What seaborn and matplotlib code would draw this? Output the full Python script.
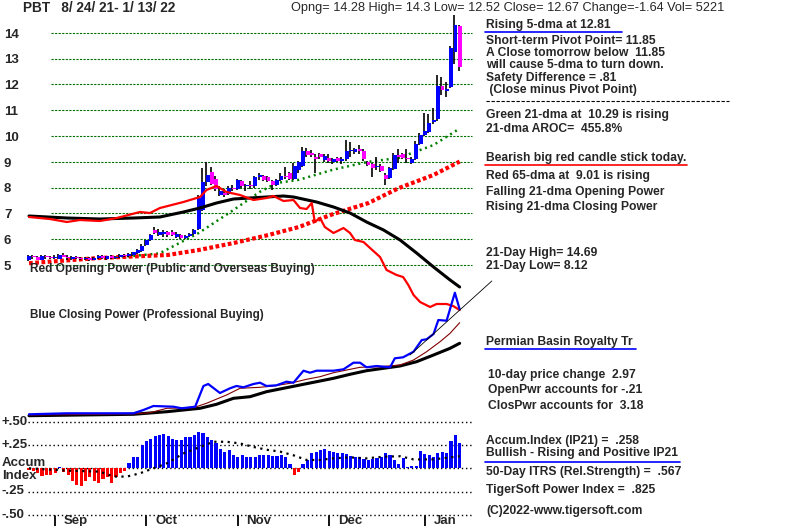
import numpy as np
import matplotlib
matplotlib.use("Agg")
import matplotlib.pyplot as plt
import matplotlib.transforms as mtransforms
import seaborn as sns

####################### data ###################################################

# daily OHLC, 8/24/21 .. 1/13/22 (100 trading days)
opens = [5.18, 5.33, 5.30, 5.20, 5.36, 5.30, 5.28, 5.24, 5.40, 5.32,
         5.22, 5.32, 5.27, 5.22, 5.26, 5.20, 5.28, 5.34, 5.24, 5.33,
         5.27, 5.30, 5.38, 5.34, 5.40, 5.48, 5.55, 5.78, 5.97, 6.36,
         6.18, 6.20, 6.28, 6.28, 6.10, 6.16, 6.06, 6.14, 6.22, 6.38,
         7.15, 8.20, 8.60, 8.35, 7.72, 7.80, 7.75, 8.00, 7.95, 8.25,
         8.05, 8.10, 8.05, 8.40, 8.45, 8.42, 8.25, 8.10, 8.30, 8.45,
         8.55, 8.35, 8.70, 8.85, 9.40, 9.35, 9.20, 9.30, 9.08, 9.15,
         9.00, 9.15, 9.05, 9.10, 9.40, 9.38, 9.48, 9.42, 9.00, 8.90,
         8.80, 8.85, 8.50, 8.38, 8.72, 9.28, 9.30, 9.15, 8.95, 9.10,
         9.70, 10.02, 10.15, 10.54, 10.66, 11.94, 11.75, 11.90, 13.25, 14.28]
highs = [5.40, 5.38, 5.34, 5.40, 5.40, 5.35, 5.38, 5.42, 5.45, 5.38,
         5.36, 5.36, 5.32, 5.30, 5.30, 5.32, 5.38, 5.38, 5.36, 5.37,
         5.36, 5.42, 5.42, 5.46, 5.52, 5.62, 5.80, 5.98, 6.22, 6.48,
         6.40, 6.35, 6.32, 6.34, 6.26, 6.22, 6.18, 6.24, 6.40, 7.70,
         8.75, 9.00, 8.80, 8.45, 8.05, 7.95, 8.05, 8.10, 8.35, 8.30,
         8.15, 8.25, 8.45, 8.55, 8.50, 8.45, 8.30, 8.35, 8.55, 8.80,
         8.60, 8.95, 9.05, 9.57, 9.55, 9.45, 9.30, 9.35, 9.30, 9.30,
         9.15, 9.20, 9.20, 9.84, 9.75, 9.55, 9.65, 9.48, 9.05, 8.95,
         9.20, 8.90, 8.55, 8.80, 9.35, 9.50, 9.35, 9.50, 9.20, 9.80,
         10.10, 10.90, 10.85, 11.10, 12.36, 12.30, 12.10, 13.50, 14.69, 14.30]
lows = [5.14, 5.22, 5.18, 5.18, 5.25, 5.22, 5.22, 5.22, 5.30, 5.20,
        5.18, 5.24, 5.20, 5.18, 5.16, 5.18, 5.24, 5.22, 5.20, 5.24,
        5.24, 5.28, 5.32, 5.30, 5.36, 5.44, 5.52, 5.74, 5.94, 6.20,
        6.12, 6.10, 6.10, 6.12, 6.04, 6.02, 6.00, 6.08, 6.18, 6.36,
        7.10, 8.05, 8.10, 7.85, 7.68, 7.62, 7.70, 7.85, 7.90, 8.00,
        7.85, 7.95, 8.00, 8.30, 8.25, 8.20, 7.90, 8.05, 8.25, 8.35,
        8.30, 8.30, 8.55, 8.80, 9.20, 9.20, 8.58, 9.10, 9.00, 8.95,
        8.90, 9.00, 8.90, 9.05, 9.20, 9.30, 9.30, 9.05, 8.85, 8.40,
        8.70, 8.60, 8.12, 8.35, 8.70, 8.95, 9.12, 8.95, 8.90, 9.08,
        9.65, 10.00, 10.10, 10.45, 10.60, 11.60, 11.50, 11.85, 12.80, 12.52]
closes = [5.35, 5.30, 5.20, 5.36, 5.30, 5.28, 5.32, 5.38, 5.32, 5.26,
          5.32, 5.27, 5.22, 5.26, 5.20, 5.28, 5.34, 5.26, 5.33, 5.27,
          5.32, 5.38, 5.34, 5.44, 5.50, 5.58, 5.74, 5.95, 6.18, 6.25,
          6.26, 6.28, 6.16, 6.16, 6.20, 6.06, 6.12, 6.20, 6.36, 7.60,
          8.20, 8.50, 8.15, 7.95, 7.85, 7.72, 8.00, 7.95, 8.30, 8.05,
          8.10, 8.05, 8.40, 8.50, 8.30, 8.25, 8.10, 8.30, 8.45, 8.40,
          8.35, 8.85, 9.00, 9.40, 9.28, 9.25, 9.10, 9.18, 9.22, 9.05,
          9.10, 9.05, 9.12, 9.40, 9.45, 9.48, 9.42, 9.10, 8.88, 8.75,
          8.85, 8.65, 8.35, 8.75, 9.28, 9.20, 9.15, 9.10, 9.12, 9.70,
          10.05, 10.20, 10.50, 10.62, 11.94, 11.80, 11.82, 13.40, 14.30, 12.67]

# price moving averages, read at (day, value)
ma21_days = [20, 22, 30, 39, 47, 53, 57, 62, 70, 78, 85, 93, 99]
ma21_vals = [5.30, 5.32, 5.45, 6.24, 7.13, 7.83, 8.18, 8.30, 8.70, 9.00, 9.15, 9.65, 10.29]
ma65_days = [0, 16, 32, 39, 47, 55, 62, 70, 78, 85, 93, 99]
ma65_vals = [5.07, 5.27, 5.39, 5.58, 5.85, 6.16, 6.47, 6.98, 7.40, 7.98, 8.49, 9.01]

# opening power (red) and its 21-dma (black), arbitrary units
op_days = [0, 4.8, 8.7, 11.7, 16.3, 20.2, 25.5, 27.8, 30.1, 35.5, 39.3, 40.8, 43.1,
           45.4, 48.5, 51.6, 54.6, 56.2, 58.5, 60.8, 62.3, 63.8, 65, 65.7, 66.9, 68,
           70, 72.3, 73.8, 74.9, 76.9, 78.4, 80.7, 82.2, 84.5, 86, 87.2, 88.4, 89.9,
           92.2, 93.7, 96, 97.5, 99]
op_vals = [283, 281, 278, 280, 279, 282, 288, 287, 292, 298, 303, 310, 314,
           308, 305, 300, 302, 304, 299, 300, 292, 291, 297, 278, 282, 273,
           267, 272, 267, 260, 258, 252, 243, 230, 225, 223, 215, 205, 198,
           193, 196, 196, 194, 190]
op_ma_days = [0, 8.7, 16.3, 24, 30.1, 35.5, 39.3, 43.1, 47, 50.8, 54.6, 58.5, 60.8,
              66.1, 70, 73.8, 77.6, 81.5, 85.3, 89.1, 93, 96.8, 99]
op_ma_vals = [284, 282, 281, 282, 283, 288, 292, 297, 301, 302, 303, 304, 303,
              298, 293, 287, 278, 270, 260, 247, 233, 220, 213]

# closing power (blue), its short ma (brown) and 65-dma (black)
cp_days = [0, 8.7, 24, 26.3, 28.6, 33.2, 35.1, 38.2, 40.1, 41.2, 43.9, 46.2, 47.7,
           49.3, 51.6, 53.1, 54.6, 56.9, 59.2, 60.8, 63.1, 64.6, 66.1, 70, 72.3,
           74.6, 76.1, 77.6, 79.9, 83, 84.1, 86, 88.4, 90.3, 91.4, 93, 94.1, 96,
           97.9, 99]
cp_vals = [85.7, 86.7, 86.7, 90, 94, 93.3, 91.7, 93.3, 114, 116, 107, 111.7, 114,
           112.7, 116, 117.3, 114, 114.7, 118.3, 117.3, 129.3, 127.3, 129.3, 129.3,
           130.7, 137.3, 137.3, 132.7, 134, 132.7, 141.7, 142.7, 148.3, 160, 160.7,
           166, 180, 179.3, 207.3, 190.7]
cp_ma_days = [0, 24, 27.8, 31.7, 37.8, 40.8, 45.4, 48.5, 53.1, 56.2, 60, 63.8, 66.9,
              70, 76.1, 80.7, 85.3, 88.4, 91.4, 94.5, 96.8, 99]
cp_ma_vals = [85, 86, 87.3, 91.7, 92.3, 96.7, 105, 111.7, 112.7, 114, 116.7, 120.7,
              123.3, 127.3, 132.7, 133.3, 135, 140, 148.3, 158.3, 166.7, 177.3]
cp_ma65_days = [0, 24, 31.7, 39.3, 43.1, 47, 50.8, 54.6, 58.5, 62.3, 66.1, 70, 73.8,
                77.6, 81.5, 85.3, 89.1, 93, 96.8, 99]
cp_ma65_vals = [84.3, 85.7, 88.3, 91.7, 95.7, 101.7, 103.3, 108.3, 111.7, 115, 118.3,
                121.7, 125.7, 129.3, 131.7, 134, 138.3, 145, 151.7, 156.7]
cp_trend_days = [87.6, 106.4]
cp_trend_vals = [145, 219]

# accumulation index (IP21)
accum = [-0.02, -0.03, -0.05, -0.08, -0.07, -0.07, -0.05, 0.01, -0.04, -0.07,
         -0.14, -0.18, -0.19, -0.14, -0.09, -0.14, -0.16, -0.12, -0.09, -0.16,
         -0.09, -0.05, -0.025, 0.06, 0.12, 0.12, 0.25, 0.29, 0.32, 0.35,
         0.36, 0.37, 0.35, 0.32, 0.31, 0.30, 0.34, 0.34, 0.36, 0.39,
         0.38, 0.34, 0.30, 0.27, 0.21, 0.18, 0.20, 0.14, 0.125, 0.14,
         0.125, 0.125, 0.125, 0.14, 0.14, 0.14, 0.13, 0.13, 0.14, 0.125,
         0.05, -0.07, -0.04, 0.05, 0.09, 0.16, 0.18, 0.20, 0.21, 0.19,
         0.18, 0.17, 0.17, 0.15, 0.13, 0.125, 0.12, 0.10, 0.09, 0.10,
         0.11, 0.125, 0.16, 0.14, 0.09, 0.05, 0.11, 0.01, 0.02, 0.025,
         0.19, 0.155, 0.14, 0.12, 0.17, 0.18, 0.17, 0.29, 0.36, 0.27]
accum_ma_days = [0, 8.7, 16.3, 19.4, 22.5, 25.5, 28.6, 31.7, 35.5, 39.3, 42.4, 45.4,
                 48.5, 51.6, 54.6, 57.7, 60.8, 63.8, 66.9, 70, 73.8, 77.6, 81.5,
                 85.3, 88.4, 93, 99]
accum_ma_vals = [0, -0.025, -0.036, -0.089, -0.089, -0.054, 0, 0.054, 0.16, 0.23,
                 0.286, 0.286, 0.268, 0.23, 0.2, 0.18, 0.14, 0.09, 0.09, 0.107,
                 0.118, 0.107, 0.125, 0.13, 0.096, 0.096, 0.13]

price_levels = [14, 13, 12, 11, 10, 9, 8, 7, 6, 5]
accum_levels = [0.5, 0.25, 0, -0.25, -0.5]
accum_labels = ["+.50", "+.25", "", "-.25", "-.50"]
months = ["Sep", "Oct", "Nov", "Dec", "Jan"]
month_days = [6, 27, 48, 69, 91]

####################### figure setup ###########################################

sns.set_style("white")
plt.rcParams['font.family'] = ['Liberation Sans', 'DejaVu Sans']

W, H = 800, 526
fig = plt.figure(figsize=(W / 100, H / 100), dpi=100)
fig.patch.set_facecolor("white")

# pixel mapping of the original chart
X0, DX = 29, 4.35
xlim = (-X0 / DX, (W - X0) / DX)
x_px = lambda p: (p - X0) / DX


def overlay():
    a = fig.add_axes([0, 0, 1, 1])
    a.set_axis_off()
    a.patch.set_alpha(0)
    return a


ax_p = overlay()
ax_w = overlay()
ax_a = overlay()
p_ylim = (5 - (H - 265) / 25.8, 5 + 265 / 25.8)
w_ylim = (-26, 500)
a_ylim = ((468.3 - H) / 92.8, 468.3 / 92.8)

days = np.arange(len(closes))

####################### price panel ############################################

ax_p.hlines(price_levels, x_px(51), x_px(472), color="#007000", lw=0.8,
            linestyles=(0, (2, 1.2)), zorder=1)

o, c = np.array(opens), np.array(closes)
ax_p.vlines(days - 0.23, lows, highs, color="black", lw=1.2, zorder=3)
body = np.where(np.abs(c - o) < 0.03, np.sign(c - o + 1e-9) * 0.03, c - o)
ax_p.bar(days + 0.05, body, bottom=o, width=0.9, linewidth=0,
         color=np.where(c >= o, "#0000ff", "#ff00ff"), zorder=4)

sns.lineplot(x=ma21_days, y=ma21_vals, ax=ax_p, color="#008000", lw=1.8,
             linestyle=(0, (0.8, 1.5)), sort=False, estimator=None, zorder=2)
sns.lineplot(x=ma65_days, y=ma65_vals, ax=ax_p, color="#ff0000", lw=3,
             linestyle=(0, (0.9, 0.6)), sort=False, estimator=None, zorder=2)

####################### power lines ############################################

sns.lineplot(x=op_ma_days, y=op_ma_vals, ax=ax_w, color="black", lw=2.2,
             sort=False, estimator=None, zorder=2)
sns.lineplot(x=op_days, y=op_vals, ax=ax_w, color="#ff0000", lw=1.6,
             sort=False, estimator=None, zorder=3)
sns.lineplot(x=cp_ma65_days, y=cp_ma65_vals, ax=ax_w, color="black", lw=2.2,
             sort=False, estimator=None, zorder=2)
sns.lineplot(x=cp_ma_days, y=cp_ma_vals, ax=ax_w, color="#800000", lw=0.8,
             sort=False, estimator=None, zorder=2)
sns.lineplot(x=cp_days, y=cp_vals, ax=ax_w, color="#0000ff", lw=1.6,
             sort=False, estimator=None, zorder=3)
sns.lineplot(x=cp_trend_days, y=cp_trend_vals, ax=ax_w, color="black", lw=0.6,
             sort=False, estimator=None, zorder=4)

####################### accumulation index #####################################

ax_a.hlines(accum_levels, x_px(28), x_px(472), color="black", lw=1,
            linestyles=(0, (1, 2)), zorder=1)
ac = np.array(accum)
ax_a.bar(days, ac, width=0.72, linewidth=0,
         color=np.where(ac >= 0, "#0000ff", "#ff0000"), zorder=2)
sns.lineplot(x=accum_ma_days, y=accum_ma_vals, ax=ax_a, color="black", lw=1.6,
             linestyle=(0, (1, 2)), sort=False, estimator=None, zorder=3)

# seaborn autoscales, so pin every layer back to the chart's pixel grid
for a, yl in ((ax_p, p_ylim), (ax_w, w_ylim), (ax_a, a_ylim)):
    a.set_xlim(*xlim)
    a.set_ylim(*yl)

LBL = dict(fontsize=9.5, fontweight="bold")

lab_tr = mtransforms.blended_transform_factory(fig.transFigure, ax_p.transData)
for lv in price_levels:
    ax_p.text(4 / W, lv - 0.07, str(lv), transform=lab_tr, va="center", ha="left", **LBL)

acc_tr = mtransforms.blended_transform_factory(fig.transFigure, ax_a.transData)
for lv, lab in zip(accum_levels, accum_labels):
    ax_a.text(2 / W, lv, lab, transform=acc_tr, va="center", ha="left", **LBL)
ax_a.text(2 / W, 0.06, "Accum", transform=acc_tr, va="center", **LBL)
ax_a.text(2 / W, -0.08, "Index", transform=acc_tr, va="center", **LBL)

# month ticks
for d, m in zip(month_days, months):
    ax_a.plot([d, d], [(468.3 - 516) / 92.8, (468.3 - 527) / 92.8], color="black", lw=1.3)
    ax_a.text(d + 2, (468.3 - 521) / 92.8, m, va="center", **LBL)

####################### texts ##################################################


def txt(x, y, s, size=8.7, weight="bold", **kw):
    fig.text(x / W, 1 - y / H, s, fontsize=size, fontweight=weight,
             va="center", ha="left", **kw)


def uline(x1, x2, y, color, lw=1.2, ls="-"):
    fig.add_artist(plt.Line2D([x1 / W, x2 / W], [1 - y / H, 1 - y / H],
                              color=color, lw=lw, linestyle=ls,
                              transform=fig.transFigure))


txt(23, 8, "PBT   8/ 24/ 21- 1/ 13/ 22", size=9.8)
txt(291, 8, "Opng= 14.28 High= 14.3 Low= 12.52 Close= 12.67 Change=-1.64 Vol= 5221",
    size=9.2, weight="normal")

txt(486, 25, "Rising 5-dma at 12.81")
uline(485, 622, 32, "#0000ff")
txt(486, 41, "Short-term Pivot Point= 11.85")
txt(486, 53, "A Close tomorrow below  11.85")
txt(486, 65, "will cause 5-dma to turn down.")
txt(486, 78, "Safety Difference = .81")
txt(486, 90, " (Close minus Pivot Point)")
uline(486, 729, 101, "black", lw=0.8, ls=(0, (3, 1.5)))
txt(486, 115, "Green 21-dma at  10.29 is rising")
txt(486, 129, "21-dma AROC=  455.8%")
txt(486, 158, "Bearish big red candle stick today.")
uline(485, 687, 165, "#ff0000")
txt(486, 176, "Red 65-dma at  9.01 is rising")
txt(486, 192, "Falling 21-dma Opening Power")
txt(486, 207, "Rising 21-dma Closing Power")
txt(486, 253, "21-Day High= 14.69")
txt(486, 266, "21-Day Low= 8.12")
txt(486, 342, "Permian Basin Royalty Tr")
uline(485, 636, 349, "#0000ff")
txt(488, 375, "10-day price change  2.97")
txt(488, 390, "OpenPwr accounts for -.21")
txt(488, 406, "ClosPwr accounts for  3.18")
txt(486, 441, "Accum.Index (IP21) =  .258")
txt(486, 453, "Bullish - Rising and Positive IP21")
uline(485, 680, 462, "#0000ff")
txt(486, 472, "50-Day ITRS (Rel.Strength) =  .567")
txt(486, 490, "TigerSoft Power Index =  .825")
txt(486, 511, "(C)2022-www.tigersoft.com")

txt(30, 269, "Red Opening Power (Public and Overseas Buying)", size=8.6)
txt(30, 315, "Blue Closing Power (Professional Buying)", size=8.4)

fig.savefig("out.png", dpi=100, facecolor="white")
